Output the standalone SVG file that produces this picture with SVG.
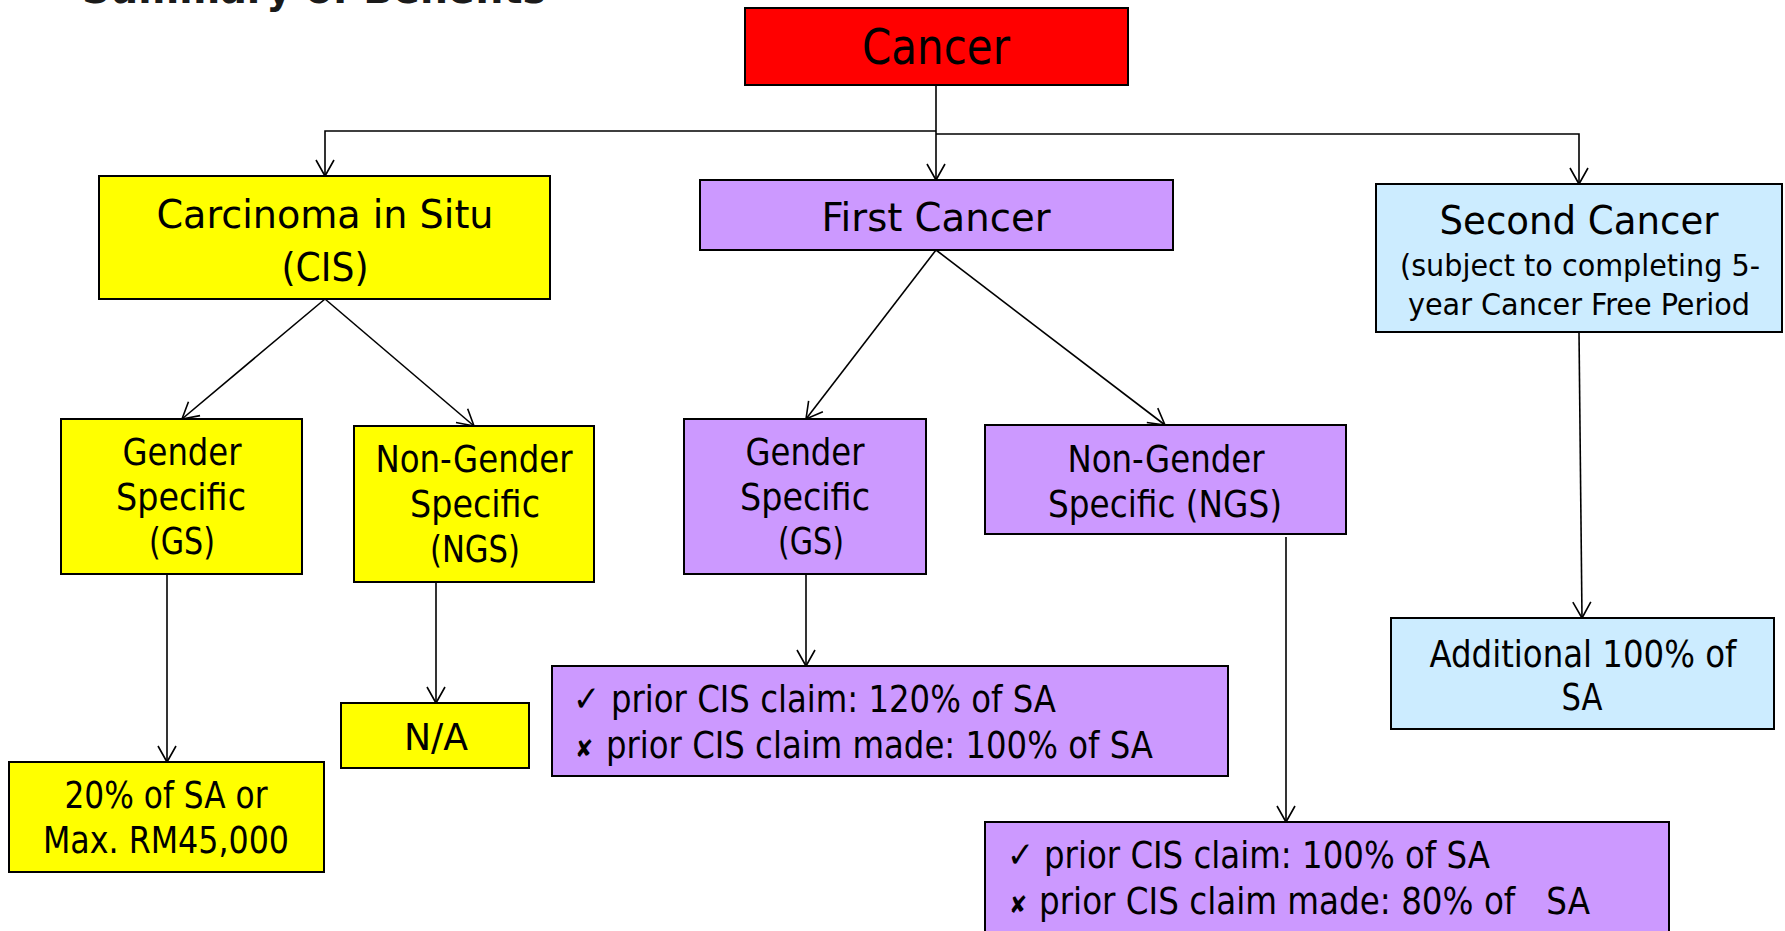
<svg xmlns="http://www.w3.org/2000/svg" width="1785" height="931" viewBox="0 0 1785 931">
  <defs>
    <marker id="arrow" markerUnits="userSpaceOnUse" viewBox="-1 -11 19 22" refX="16" refY="0" markerWidth="19" markerHeight="22" orient="auto">
      <path d="M0,-9 L16,0 L0,9" fill="none" stroke="#000" stroke-width="1.6"/>
    </marker>
    <style>
      text { font-family: "DejaVu Sans Condensed", "DejaVu Sans", sans-serif; font-stretch: condensed; fill: #000; }
      .box { stroke: #000; stroke-width: 2; }
      .red { fill: #FF0000; }
      .yellow { fill: #FFFF00; }
      .purple { fill: #CC99FF; }
      .blue { fill: #CCECFF; }
      .c { text-anchor: middle; }
      .t49 { font-size: 49px; }
      .t39 { font-size: 39px; }
      .t38 { font-size: 38px; }
      .t30 { font-size: 30px; }
      .mark { font-family: "DejaVu Sans", sans-serif; }
      .conn { fill: none; stroke: #000; stroke-width: 1.6; }
      .title { font-family: "DejaVu Sans", sans-serif; font-weight: bold; font-size: 40px; fill: #1a1a1a; }
    </style>
  </defs>

  <rect width="1785" height="931" fill="#fff"/>

  <!-- heading, clipped by the top edge -->
  <text class="title" x="82" y="3" textLength="464" lengthAdjust="spacingAndGlyphs">Summary of Benefits</text>

  <g id="connectors">
    <path class="conn" d="M936,85 V180" marker-end="url(#arrow)"/>
    <path class="conn" d="M936,131 H325 V176" marker-end="url(#arrow)"/>
    <path class="conn" d="M936,134 H1579 V184" marker-end="url(#arrow)"/>
    <path class="conn" d="M325,299 L182,419" marker-end="url(#arrow)"/>
    <path class="conn" d="M325,299 L474,426" marker-end="url(#arrow)"/>
    <path class="conn" d="M167,574 V762" marker-end="url(#arrow)"/>
    <path class="conn" d="M436,582 V703" marker-end="url(#arrow)"/>
    <path class="conn" d="M936,250 L806,419" marker-end="url(#arrow)"/>
    <path class="conn" d="M936,250 L1165,425" marker-end="url(#arrow)"/>
    <path class="conn" d="M806,574 V666" marker-end="url(#arrow)"/>
    <path class="conn" d="M1286,537 V822" marker-end="url(#arrow)"/>
    <path class="conn" d="M1579,332 L1582,618" marker-end="url(#arrow)"/>
  </g>

  <g id="cancer">
    <rect class="box red" x="745" y="8" width="383" height="77"/>
    <text class="t49 c" x="936" y="64" textLength="148" lengthAdjust="spacingAndGlyphs">Cancer</text>
  </g>

  <g id="cis">
    <rect class="box yellow" x="99" y="176" width="451" height="123"/>
    <text class="t39 c" x="325" y="228" textLength="337" lengthAdjust="spacingAndGlyphs">Carcinoma in Situ</text>
    <text class="t39 c" x="325" y="281" textLength="87" lengthAdjust="spacingAndGlyphs">(CIS)</text>
  </g>

  <g id="first-cancer">
    <rect class="box purple" x="700" y="180" width="473" height="70"/>
    <text class="t39 c" x="936" y="231" textLength="229" lengthAdjust="spacingAndGlyphs">First Cancer</text>
  </g>

  <g id="second-cancer">
    <rect class="box blue" x="1376" y="184" width="406" height="148"/>
    <text class="t39 c" x="1579" y="234" textLength="279" lengthAdjust="spacingAndGlyphs">Second Cancer</text>
    <text class="t30 c" x="1580" y="276" textLength="360" lengthAdjust="spacingAndGlyphs">(subject to completing 5-</text>
    <text class="t30 c" x="1579" y="315" textLength="342" lengthAdjust="spacingAndGlyphs">year Cancer Free Period</text>
  </g>

  <g id="cis-gs">
    <rect class="box yellow" x="61" y="419" width="241" height="155"/>
    <text class="t38 c" x="182" y="465" textLength="119" lengthAdjust="spacingAndGlyphs">Gender</text>
    <text class="t38 c" x="181" y="510" textLength="130" lengthAdjust="spacingAndGlyphs">Specific</text>
    <text class="t38 c" x="182" y="554" textLength="66" lengthAdjust="spacingAndGlyphs">(GS)</text>
  </g>

  <g id="cis-ngs">
    <rect class="box yellow" x="354" y="426" width="240" height="156"/>
    <text class="t38 c" x="474" y="472" textLength="197" lengthAdjust="spacingAndGlyphs">Non-Gender</text>
    <text class="t38 c" x="475" y="517" textLength="130" lengthAdjust="spacingAndGlyphs">Specific</text>
    <text class="t38 c" x="475" y="562" textLength="90" lengthAdjust="spacingAndGlyphs">(NGS)</text>
  </g>

  <g id="cis-gs-benefit">
    <rect class="box yellow" x="9" y="762" width="315" height="110"/>
    <text class="t38 c" x="166" y="808" textLength="203" lengthAdjust="spacingAndGlyphs">20% of SA or</text>
    <text class="t38 c" x="166" y="853" textLength="246" lengthAdjust="spacingAndGlyphs">Max. RM45,000</text>
  </g>

  <g id="cis-ngs-benefit">
    <rect class="box yellow" x="341" y="703" width="188" height="65"/>
    <text class="t38 c" x="436" y="750" textLength="64" lengthAdjust="spacingAndGlyphs">N/A</text>
  </g>

  <g id="first-gs">
    <rect class="box purple" x="684" y="419" width="242" height="155"/>
    <text class="t38 c" x="805" y="465" textLength="119" lengthAdjust="spacingAndGlyphs">Gender</text>
    <text class="t38 c" x="805" y="510" textLength="130" lengthAdjust="spacingAndGlyphs">Specific</text>
    <text class="t38 c" x="811" y="554" textLength="66" lengthAdjust="spacingAndGlyphs">(GS)</text>
  </g>

  <g id="first-ngs">
    <rect class="box purple" x="985" y="425" width="361" height="109"/>
    <text class="t38 c" x="1166" y="472" textLength="197" lengthAdjust="spacingAndGlyphs">Non-Gender</text>
    <text class="t38 c" x="1165" y="517" textLength="234" lengthAdjust="spacingAndGlyphs">Specific (NGS)</text>
  </g>

  <g id="first-gs-benefit">
    <rect class="box purple" x="552" y="666" width="676" height="110"/>
    <text class="mark" x="573" y="711" font-size="36">✓</text>
    <text class="t38" x="611" y="712" textLength="445" lengthAdjust="spacingAndGlyphs">prior CIS claim: 120% of SA</text>
    <text class="mark" x="575" y="757" font-size="24" font-weight="bold">✘</text>
    <text class="t38" x="606" y="758" textLength="547" lengthAdjust="spacingAndGlyphs">prior CIS claim made: 100% of SA</text>
  </g>

  <g id="first-ngs-benefit">
    <rect class="box purple" x="985" y="822" width="684" height="130"/>
    <text class="mark" x="1007" y="867" font-size="36">✓</text>
    <text class="t38" x="1044" y="868" textLength="446" lengthAdjust="spacingAndGlyphs">prior CIS claim: 100% of SA</text>
    <text class="mark" x="1009" y="913" font-size="24" font-weight="bold">✘</text>
    <text class="t38" x="1039" y="914" textLength="551" lengthAdjust="spacingAndGlyphs" style="white-space:pre">prior CIS claim made: 80% of   SA</text>
  </g>

  <g id="second-benefit">
    <rect class="box blue" x="1391" y="618" width="383" height="111"/>
    <text class="t38 c" x="1583" y="667" textLength="307" lengthAdjust="spacingAndGlyphs">Additional 100% of</text>
    <text class="t38 c" x="1582" y="710" textLength="41" lengthAdjust="spacingAndGlyphs">SA</text>
  </g>
</svg>
